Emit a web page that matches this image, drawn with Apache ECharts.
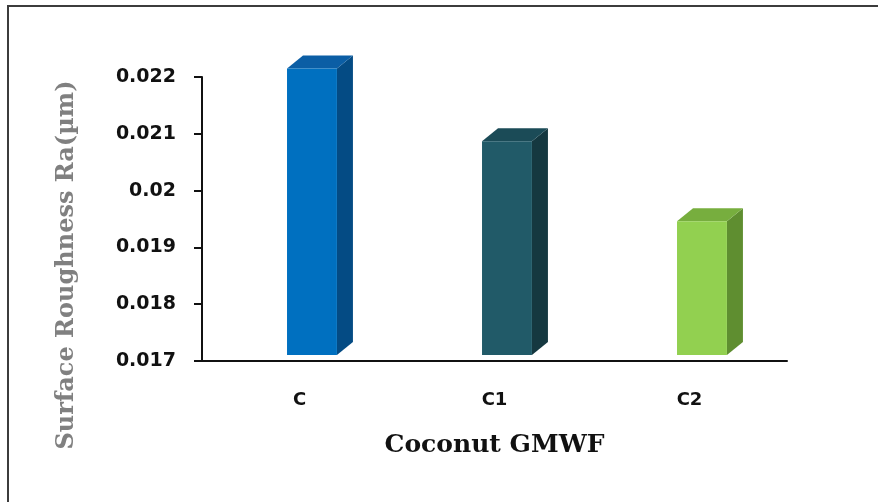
<!DOCTYPE html>
<html>
<head>
<meta charset="utf-8">
<script src="https://cdn.jsdelivr.net/npm/echarts@6/dist/echarts.min.js"></script>
<style>
  html, body { margin: 0; padding: 0; background: #ffffff; }
  #chart { width: 878px; height: 502px; }
</style>
</head>
<body>
<div id="chart"></div>
<script>
// Surface roughness for each coconut GMWF sample
const categories = ['C', 'C1', 'C2'];
const roughness = [0.02215, 0.02087, 0.01946];
const yTickValues = [0.017, 0.018, 0.019, 0.02, 0.021, 0.022];
const yTickLabels = ['0.017', '0.018', '0.019', '0.02', '0.021', '0.022'];

// face colours per bar: front, top, side
const faceColors = [
  { front: '#0070c0', top: '#0b5ea5', side: '#044b84' },
  { front: '#215a68', top: '#1b4b57', side: '#153840' },
  { front: '#92d050', top: '#77ae3e', side: '#5f8e30' }
];

const chart = echarts.init(document.getElementById('chart'), null, { renderer: 'canvas' });

// draws a box-shaped column: front face, top face and right side face
function renderBox(params, api) {
  const idx = api.value(0);
  const val = api.value(1);
  const top = api.coord([idx, val]);
  const base = api.coord([idx, yTickValues[0]]);
  const band = api.size([1, 0])[0];
  const w = band * 0.256;
  const x0 = top[0] - band * 0.064;
  const x1 = x0 + w;
  const floor = 6;
  const yTop = top[1];
  const yBot = base[1] - floor;
  const dx = 16, dy = 13;
  const c = faceColors[idx];
  return {
    type: 'group',
    children: [
      {
        type: 'polygon',
        shape: { points: [[x1, yTop], [x1 + dx, yTop - dy], [x1 + dx, yBot - dy], [x1, yBot]] },
        style: { fill: c.side }
      },
      {
        type: 'polygon',
        shape: { points: [[x0, yTop], [x0 + dx, yTop - dy], [x1 + dx, yTop - dy], [x1, yTop]] },
        style: { fill: c.top }
      },
      {
        type: 'rect',
        shape: { x: x0, y: yTop, width: w, height: yBot - yTop },
        style: { fill: c.front }
      }
    ]
  };
}

chart.setOption({
  backgroundColor: '#ffffff',
  animation: false,
  graphic: [
    {
      type: 'rect',
      shape: { x: 8, y: 6, width: 900, height: 600 },
      style: { fill: 'none', stroke: '#3c3c3c', lineWidth: 2 },
      z: 10
    },
    {
      type: 'text',
      x: 67,
      y: 265,
      rotation: Math.PI / 2,
      style: {
        text: 'Surface Roughness Ra(µm)',
        fontFamily: 'DejaVu Serif',
        fontWeight: 'bold',
        fontSize: 24,
        fill: '#808080',
        align: 'center',
        verticalAlign: 'middle'
      }
    }
  ],
  grid: { left: 202, right: 91, top: 77, bottom: 141 },
  xAxis: {
    type: 'category',
    data: categories,
    name: 'Coconut GMWF',
    nameLocation: 'middle',
    nameGap: 72,
    nameTextStyle: { fontFamily: 'DejaVu Serif', fontWeight: 'bold', fontSize: 25, color: '#111111' },
    axisLine: { lineStyle: { color: '#111111', width: 2 } },
    axisTick: { show: false },
    axisLabel: { margin: 30, fontFamily: 'DejaVu Sans', fontWeight: 'bold', fontSize: 18, color: '#111111' }
  },
  yAxis: {
    type: 'value',
    min: 0.017,
    max: 0.022,
    interval: 0.001,
    splitLine: { show: false },
    axisLine: { show: true, lineStyle: { color: '#111111', width: 2 } },
    axisTick: { show: true, length: 8, lineStyle: { color: '#111111', width: 2 } },
    axisLabel: {
      margin: 26,
      fontFamily: 'DejaVu Sans',
      fontWeight: 'bold',
      fontSize: 19,
      color: '#111111',
      formatter: function (v) {
        for (let i = 0; i < yTickValues.length; i++) {
          if (Math.abs(yTickValues[i] - v) < 1e-9) return yTickLabels[i];
        }
        return '';
      }
    }
  },
  series: [
    {
      type: 'custom',
      clip: false,
      renderItem: renderBox,
      encode: { x: 0, y: 1 },
      data: roughness.map(function (v, i) { return [i, v]; })
    }
  ]
});
</script>
</body>
</html>
